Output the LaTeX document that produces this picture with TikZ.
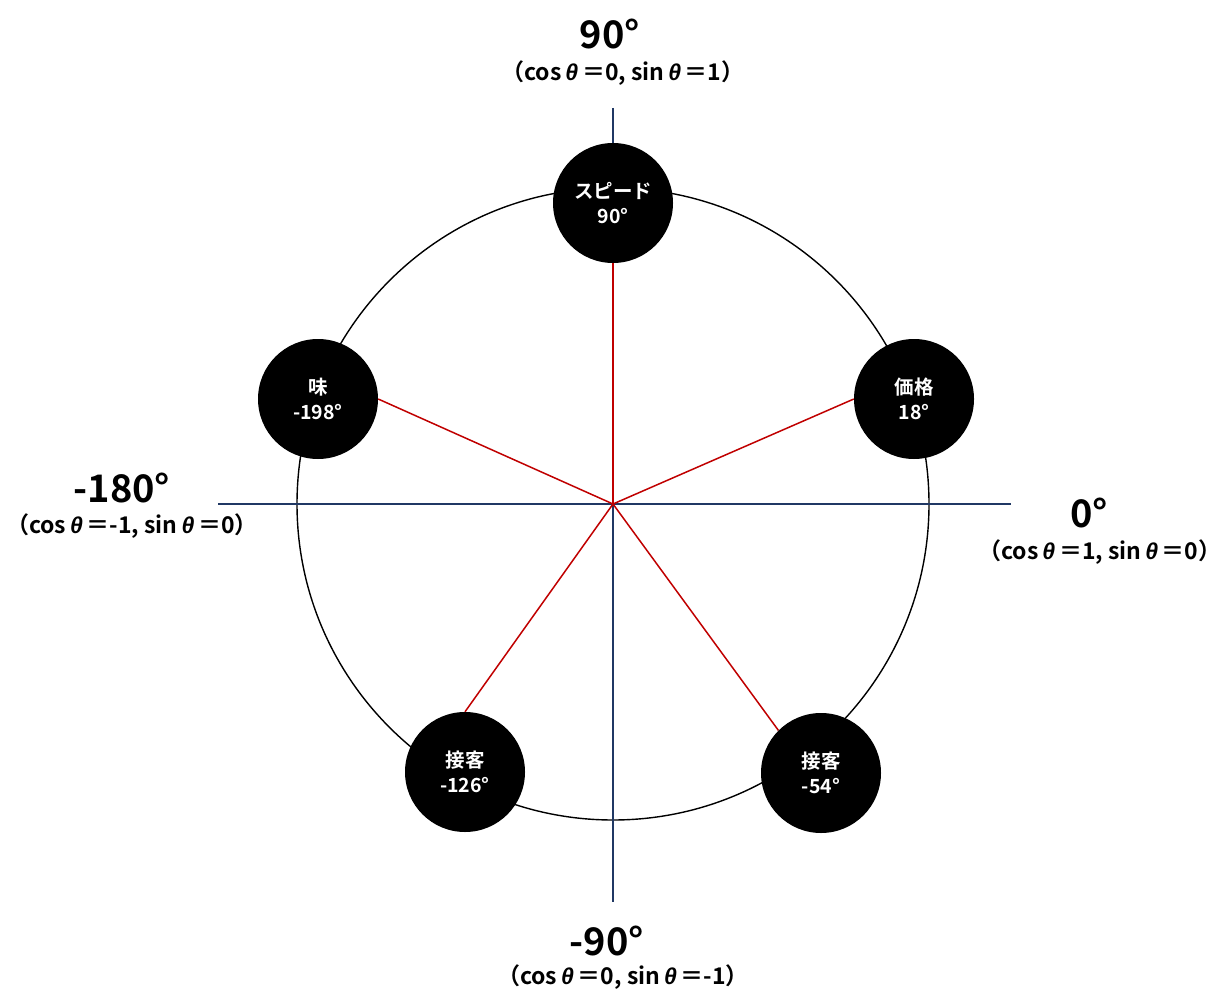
\documentclass[tikz,border=0pt]{standalone}
\usepackage{fontspec}
\setmainfont{Noto Sans CJK JP}[BoldFont={* Bold}]
\newfontfamily\thfont{Liberation Sans}
\usetikzlibrary{backgrounds}
\definecolor{axisblue}{HTML}{203864}
\definecolor{linered}{HTML}{C00000}
\newcommand{\thetaB}{{\thfont\bfseries\itshape θ}}
\tikzset{
  x=1pt, y=-1pt,
  item/.style={circle, fill=black, minimum size=120pt, inner sep=0pt,
    text=white, font=\bfseries\fontsize{19.5}{25}\selectfont, align=center},
  biglab/.style={font=\bfseries\fontsize{38}{40}\selectfont, inner sep=0pt},
  sublab/.style={font=\bfseries\fontsize{23}{25}\selectfont, inner sep=0pt},
  axis/.style={draw=axisblue, line width=1.6pt},
  spoke/.style={draw=linered, line width=1.5pt},
}
\begin{document}
\begin{tikzpicture}
\useasboundingbox (0,0) rectangle (1231,1008);
\coordinate (O) at (613,504);
\coordinate (axT) at (613,108);
\coordinate (axB) at (613,902);
\coordinate (axL) at (218,504);
\coordinate (axR) at (1011,504);

\node[item] (speed) at (613,203) {スピード\\90°};
\node[item] (price) at (914,399) {価格\\18°};
\node[item] (taste) at (318,399) {味\\-198°};
\node[item] (svcA) at (465,772) {接客\\-126°};
\node[item] (svcB) at (821,773) {接客\\-54°};

\begin{scope}[on background layer]
  \draw[line width=1.4pt] (O) circle[radius=316];
  \draw[axis] (axT) -- (axB);
  \draw[axis] (axL) -- (axR);
  \draw[spoke] (O) -- (speed.south);
  \draw[spoke] (O) -- (price.west);
  \draw[spoke] (O) -- (taste.east);
  \draw[spoke] (O) -- (svcA.north);
  \draw[spoke] (O) -- (svcB.north west);
\end{scope}

\node[biglab] (l90) at (610,34) {90°};
\node[sublab] (s90) at (623,73) {（cos\,\thetaB\,＝0, sin\,\thetaB\,＝1）};
\node[biglab] (l180) at (122,488) {-180°};
\node[sublab] (s180) at (132,526) {（cos\,\thetaB\,＝-1, sin\,\thetaB\,＝0）};
\node[biglab] (l0) at (1089,513) {0°};
\node[sublab] (s0) at (1100,552) {（cos\,\thetaB\,＝1, sin\,\thetaB\,＝0）};
\node[biglab] (lm90) at (607,941) {-90°};
\node[sublab] (sm90) at (623,977) {（cos\,\thetaB\,＝0, sin\,\thetaB\,＝-1）};
\end{tikzpicture}
\end{document}
